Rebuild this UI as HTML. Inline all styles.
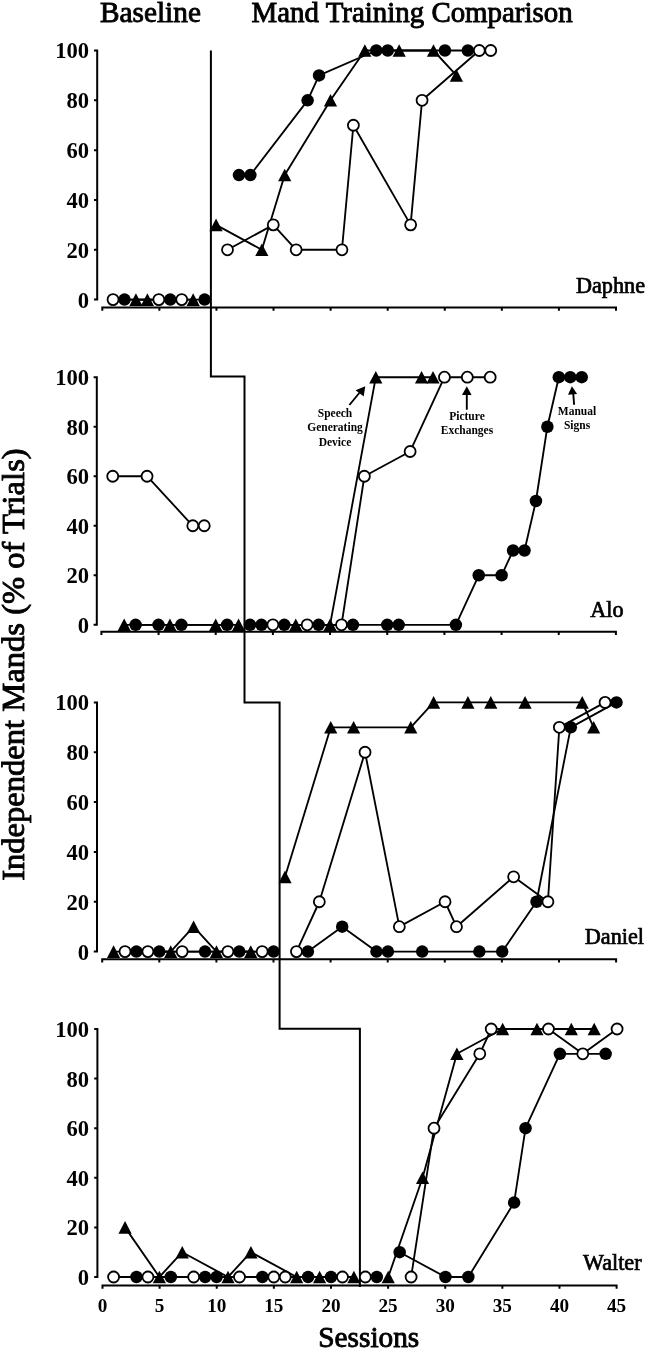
<!DOCTYPE html>
<html><head><meta charset="utf-8"><style>
html,body{margin:0;padding:0;background:#fff;}
body{width:645px;height:1350px;overflow:hidden;position:relative;}
svg{position:absolute;left:0;top:0;will-change:transform;}
text{font-family:"Liberation Serif",serif;fill:#000;}
.yl{font-size:22.6px;font-weight:bold;text-anchor:end;}
.xl{font-size:19.2px;font-weight:bold;text-anchor:middle;}
.pn{font-size:22.2px;stroke:#000;stroke-width:0.7px;}
.ti{font-size:29.3px;stroke:#000;stroke-width:0.9px;}
.yt{font-size:32.6px;stroke:#000;stroke-width:0.9px;}
.an{font-size:11.5px;font-weight:bold;text-anchor:middle;}
.mo{fill:#fff;stroke:#000;stroke-width:1.8;}
</style></head><body>
<svg width="645" height="1350" viewBox="0 0 645 1350">
<g fill="none" stroke="#000" stroke-width="2">
<path d="M97.2 50.5 V299.6 M94 299.6 H98.2 M94 249.78 H98.2 M94 199.96 H98.2 M94 150.14 H98.2 M94 100.32 H98.2 M94 50.5 H98.2"/>
<path d="M101.3 307.6 H617 M102.3 306.6 V310.8 M159.38 306.6 V310.8 M216.46 306.6 V310.8 M273.53 306.6 V310.8 M330.61 306.6 V310.8 M387.69 306.6 V310.8 M444.77 306.6 V310.8 M501.84 306.6 V310.8 M558.92 306.6 V310.8 M616 306.6 V310.8"/>
<path d="M96.8 377.2 V624.8 M93.6 624.8 H97.8 M93.6 575.28 H97.8 M93.6 525.76 H97.8 M93.6 476.24 H97.8 M93.6 426.72 H97.8 M93.6 377.2 H97.8"/>
<path d="M100.4 631.8 H616.9 M101.4 630.8 V635 M158.57 630.8 V635 M215.73 630.8 V635 M272.9 630.8 V635 M330.07 630.8 V635 M387.23 630.8 V635 M444.4 630.8 V635 M501.57 630.8 V635 M558.73 630.8 V635 M615.9 630.8 V635"/>
<path d="M97 702.4 V951.6 M93.8 951.6 H98 M93.8 901.76 H98 M93.8 851.92 H98 M93.8 802.08 H98 M93.8 752.24 H98 M93.8 702.4 H98"/>
<path d="M101.2 959.2 H617.1 M102.2 958.2 V962.4 M159.3 958.2 V962.4 M216.4 958.2 V962.4 M273.5 958.2 V962.4 M330.6 958.2 V962.4 M387.7 958.2 V962.4 M444.8 958.2 V962.4 M501.9 958.2 V962.4 M559 958.2 V962.4 M616.1 958.2 V962.4"/>
<path d="M97.4 1029 V1277 M94.2 1277 H98.4 M94.2 1227.4 H98.4 M94.2 1177.8 H98.4 M94.2 1128.2 H98.4 M94.2 1078.6 H98.4 M94.2 1029 H98.4"/>
<path d="M101.5 1285.5 H617.6 M102.5 1284.5 V1288.7 M159.62 1284.5 V1288.7 M216.74 1284.5 V1288.7 M273.87 1284.5 V1288.7 M330.99 1284.5 V1288.7 M388.11 1284.5 V1288.7 M445.23 1284.5 V1288.7 M502.36 1284.5 V1288.7 M559.48 1284.5 V1288.7 M616.6 1284.5 V1288.7"/>
<path d="M210.9 50.5 V376.6 H244.5 V702.5 H279.6 V1028.8 H359.9 V1287" stroke-linejoin="miter"/>
</g>
<g fill="none" stroke="#000" stroke-width="1.85" stroke-linejoin="round">
<path d="M113.04 299.6 L158.82 299.6 L181.72 299.6"/>
<path d="M227.5 249.78 L273.27 224.87 L296.16 249.78 L341.94 249.78 L353.39 125.23 L410.62 224.87 L422.06 100.32 L479.28 50.5 L490.73 50.5"/>
<path d="M124.49 299.6 L170.27 299.6 L204.6 299.6"/>
<path d="M238.94 175.05 L250.38 175.05 L307.61 100.32 L319.06 75.41 L376.28 50.5 L387.73 50.5 L444.95 50.5 L467.84 50.5"/>
<path d="M135.94 299.6 L147.38 299.6 L193.16 299.6"/>
<path d="M216.05 224.87 L261.83 249.78 L284.72 175.05 L330.5 100.32 L364.84 50.5 L399.17 50.5 L433.5 50.5 L456.39 75.41"/>
<path d="M112.74 476.24 L147.05 476.24 L192.8 525.76 L204.24 525.76"/>
<path d="M272.87 624.8 L307.18 624.8 L341.5 624.8 L364.37 476.24 L410.13 451.48 L444.44 377.2 L467.32 377.2 L490.19 377.2"/>
<path d="M135.61 624.8 L158.49 624.8 L181.37 624.8 L227.12 624.8"/>
<path d="M249.99 624.8 L261.43 624.8 L284.31 624.8 L318.62 624.8 L352.94 624.8 L387.25 624.8 L398.69 624.8 L455.88 624.8 L478.75 575.28 L501.63 575.28 L513.07 550.52 L524.51 550.52 L535.94 501 L547.38 426.72 L558.82 377.2 L570.26 377.2 L581.7 377.2"/>
<path d="M124.18 624.8 L169.93 624.8 L215.68 624.8 L238.56 624.8"/>
<path d="M295.75 624.8 L330.06 624.8 L375.81 377.2 L421.56 377.2 L433 377.2"/>
<path d="M113.58 951.6 L170.73 951.6 L193.59 926.68 L216.45 951.6 L250.74 951.6"/>
<path d="M285.03 876.84 L330.75 727.32 L353.61 727.32 L410.76 727.32 L433.62 702.4 L467.91 702.4 L490.77 702.4 L525.06 702.4 L582.21 702.4 L593.64 727.32"/>
<path d="M125.01 951.6 L147.87 951.6 L182.16 951.6 L227.88 951.6 L262.17 951.6"/>
<path d="M296.46 951.6 L319.32 901.76 L365.04 752.24 L399.33 926.68 L445.05 901.76 L456.48 926.68 L513.63 876.84 L547.92 901.76 L559.35 727.32 L605.07 702.4"/>
<path d="M136.44 951.6 L159.3 951.6 L205.02 951.6 L239.31 951.6 L273.6 951.6"/>
<path d="M307.89 951.6 L342.18 926.68 L376.47 951.6 L387.9 951.6 L422.19 951.6 L479.34 951.6 L502.2 951.6 L536.49 901.76 L570.78 727.32 L616.5 702.4"/>
<path d="M113.6 1277 L147.93 1277 L193.7 1277 L239.48 1277 L273.8 1277 L285.25 1277 L342.46 1277"/>
<path d="M411.12 1277 L434.01 1128.2 L479.78 1053.8 L491.22 1029 L548.44 1029 L582.77 1053.8 L617.09 1029"/>
<path d="M125.05 1227.4 L159.38 1277 L182.26 1252.2 L228.03 1277 L250.92 1252.2 L296.69 1277 L319.58 1277 L353.91 1277"/>
<path d="M388.24 1277 L422.56 1177.8 L456.89 1053.8 L502.66 1029 L536.99 1029 L571.32 1029 L594.21 1029"/>
<path d="M136.49 1277 L170.82 1277 L205.15 1277 L216.59 1277 L262.36 1277 L308.13 1277 L331.02 1277"/>
<path d="M399.68 1252.2 L445.45 1277 L468.34 1277 L514.11 1202.6 L525.55 1128.2 L559.88 1053.8 L605.65 1053.8"/>
</g>
<g fill="#000">
<circle class="mo" cx="113.04" cy="299.6" r="5.5"/>
<circle class="mo" cx="158.82" cy="299.6" r="5.5"/>
<circle class="mo" cx="181.72" cy="299.6" r="5.5"/>
<circle class="mo" cx="227.5" cy="249.78" r="5.5"/>
<circle class="mo" cx="273.27" cy="224.87" r="5.5"/>
<circle class="mo" cx="296.16" cy="249.78" r="5.5"/>
<circle class="mo" cx="341.94" cy="249.78" r="5.5"/>
<circle class="mo" cx="353.39" cy="125.23" r="5.5"/>
<circle class="mo" cx="410.62" cy="224.87" r="5.5"/>
<circle class="mo" cx="422.06" cy="100.32" r="5.5"/>
<circle class="mo" cx="479.28" cy="50.5" r="5.5"/>
<circle class="mo" cx="490.73" cy="50.5" r="5.5"/>
<circle cx="124.49" cy="299.6" r="6.25"/>
<circle cx="170.27" cy="299.6" r="6.25"/>
<circle cx="204.6" cy="299.6" r="6.25"/>
<circle cx="238.94" cy="175.05" r="6.25"/>
<circle cx="250.38" cy="175.05" r="6.25"/>
<circle cx="307.61" cy="100.32" r="6.25"/>
<circle cx="319.06" cy="75.41" r="6.25"/>
<circle cx="376.28" cy="50.5" r="6.25"/>
<circle cx="387.73" cy="50.5" r="6.25"/>
<circle cx="444.95" cy="50.5" r="6.25"/>
<circle cx="467.84" cy="50.5" r="6.25"/>
<path d="M135.94 293.3L142.53 305.9L129.34 305.9Z"/>
<path d="M147.38 293.3L153.98 305.9L140.78 305.9Z"/>
<path d="M193.16 293.3L199.76 305.9L186.56 305.9Z"/>
<path d="M216.05 218.57L222.65 231.17L209.45 231.17Z"/>
<path d="M261.83 243.48L268.43 256.08L255.23 256.08Z"/>
<path d="M284.72 168.75L291.32 181.35L278.12 181.35Z"/>
<path d="M330.5 94.02L337.1 106.62L323.9 106.62Z"/>
<path d="M364.84 44.2L371.44 56.8L358.24 56.8Z"/>
<path d="M399.17 44.2L405.77 56.8L392.57 56.8Z"/>
<path d="M433.5 44.2L440.11 56.8L426.9 56.8Z"/>
<path d="M456.39 69.11L463 81.71L449.79 81.71Z"/>
<circle class="mo" cx="112.74" cy="476.24" r="5.5"/>
<circle class="mo" cx="147.05" cy="476.24" r="5.5"/>
<circle class="mo" cx="192.8" cy="525.76" r="5.5"/>
<circle class="mo" cx="204.24" cy="525.76" r="5.5"/>
<circle class="mo" cx="272.87" cy="624.8" r="5.5"/>
<circle class="mo" cx="307.18" cy="624.8" r="5.5"/>
<circle class="mo" cx="341.5" cy="624.8" r="5.5"/>
<circle class="mo" cx="364.37" cy="476.24" r="5.5"/>
<circle class="mo" cx="410.13" cy="451.48" r="5.5"/>
<circle class="mo" cx="444.44" cy="377.2" r="5.5"/>
<circle class="mo" cx="467.32" cy="377.2" r="5.5"/>
<circle class="mo" cx="490.19" cy="377.2" r="5.5"/>
<circle cx="135.61" cy="624.8" r="6.25"/>
<circle cx="158.49" cy="624.8" r="6.25"/>
<circle cx="181.37" cy="624.8" r="6.25"/>
<circle cx="227.12" cy="624.8" r="6.25"/>
<circle cx="249.99" cy="624.8" r="6.25"/>
<circle cx="261.43" cy="624.8" r="6.25"/>
<circle cx="284.31" cy="624.8" r="6.25"/>
<circle cx="318.62" cy="624.8" r="6.25"/>
<circle cx="352.94" cy="624.8" r="6.25"/>
<circle cx="387.25" cy="624.8" r="6.25"/>
<circle cx="398.69" cy="624.8" r="6.25"/>
<circle cx="455.88" cy="624.8" r="6.25"/>
<circle cx="478.75" cy="575.28" r="6.25"/>
<circle cx="501.63" cy="575.28" r="6.25"/>
<circle cx="513.07" cy="550.52" r="6.25"/>
<circle cx="524.51" cy="550.52" r="6.25"/>
<circle cx="535.94" cy="501" r="6.25"/>
<circle cx="547.38" cy="426.72" r="6.25"/>
<circle cx="558.82" cy="377.2" r="6.25"/>
<circle cx="570.26" cy="377.2" r="6.25"/>
<circle cx="581.7" cy="377.2" r="6.25"/>
<path d="M124.18 618.5L130.78 631.1L117.58 631.1Z"/>
<path d="M169.93 618.5L176.53 631.1L163.33 631.1Z"/>
<path d="M215.68 618.5L222.28 631.1L209.08 631.1Z"/>
<path d="M238.56 618.5L245.16 631.1L231.96 631.1Z"/>
<path d="M295.75 618.5L302.35 631.1L289.15 631.1Z"/>
<path d="M330.06 618.5L336.66 631.1L323.46 631.1Z"/>
<path d="M375.81 370.9L382.41 383.5L369.21 383.5Z"/>
<path d="M421.56 370.9L428.16 383.5L414.96 383.5Z"/>
<path d="M433 370.9L439.6 383.5L426.4 383.5Z"/>
<path d="M113.58 945.3L120.18 957.9L106.98 957.9Z"/>
<path d="M170.73 945.3L177.33 957.9L164.13 957.9Z"/>
<path d="M193.59 920.38L200.19 932.98L186.99 932.98Z"/>
<path d="M216.45 945.3L223.05 957.9L209.85 957.9Z"/>
<path d="M250.74 945.3L257.34 957.9L244.14 957.9Z"/>
<path d="M285.03 870.54L291.63 883.14L278.43 883.14Z"/>
<path d="M330.75 721.02L337.35 733.62L324.15 733.62Z"/>
<path d="M353.61 721.02L360.21 733.62L347.01 733.62Z"/>
<path d="M410.76 721.02L417.36 733.62L404.16 733.62Z"/>
<path d="M433.62 696.1L440.22 708.7L427.02 708.7Z"/>
<path d="M467.91 696.1L474.51 708.7L461.31 708.7Z"/>
<path d="M490.77 696.1L497.37 708.7L484.17 708.7Z"/>
<path d="M525.06 696.1L531.66 708.7L518.46 708.7Z"/>
<path d="M582.21 696.1L588.81 708.7L575.61 708.7Z"/>
<path d="M593.64 721.02L600.24 733.62L587.04 733.62Z"/>
<circle class="mo" cx="125.01" cy="951.6" r="5.5"/>
<circle class="mo" cx="147.87" cy="951.6" r="5.5"/>
<circle class="mo" cx="182.16" cy="951.6" r="5.5"/>
<circle class="mo" cx="227.88" cy="951.6" r="5.5"/>
<circle class="mo" cx="262.17" cy="951.6" r="5.5"/>
<circle class="mo" cx="296.46" cy="951.6" r="5.5"/>
<circle class="mo" cx="319.32" cy="901.76" r="5.5"/>
<circle class="mo" cx="365.04" cy="752.24" r="5.5"/>
<circle class="mo" cx="399.33" cy="926.68" r="5.5"/>
<circle class="mo" cx="445.05" cy="901.76" r="5.5"/>
<circle class="mo" cx="456.48" cy="926.68" r="5.5"/>
<circle class="mo" cx="513.63" cy="876.84" r="5.5"/>
<circle class="mo" cx="547.92" cy="901.76" r="5.5"/>
<circle class="mo" cx="559.35" cy="727.32" r="5.5"/>
<circle class="mo" cx="605.07" cy="702.4" r="5.5"/>
<circle cx="136.44" cy="951.6" r="6.25"/>
<circle cx="159.3" cy="951.6" r="6.25"/>
<circle cx="205.02" cy="951.6" r="6.25"/>
<circle cx="239.31" cy="951.6" r="6.25"/>
<circle cx="273.6" cy="951.6" r="6.25"/>
<circle cx="307.89" cy="951.6" r="6.25"/>
<circle cx="342.18" cy="926.68" r="6.25"/>
<circle cx="376.47" cy="951.6" r="6.25"/>
<circle cx="387.9" cy="951.6" r="6.25"/>
<circle cx="422.19" cy="951.6" r="6.25"/>
<circle cx="479.34" cy="951.6" r="6.25"/>
<circle cx="502.2" cy="951.6" r="6.25"/>
<circle cx="536.49" cy="901.76" r="6.25"/>
<circle cx="570.78" cy="727.32" r="6.25"/>
<circle cx="616.5" cy="702.4" r="6.25"/>
<circle class="mo" cx="113.6" cy="1277" r="5.5"/>
<circle class="mo" cx="147.93" cy="1277" r="5.5"/>
<circle class="mo" cx="193.7" cy="1277" r="5.5"/>
<circle class="mo" cx="239.48" cy="1277" r="5.5"/>
<circle class="mo" cx="273.8" cy="1277" r="5.5"/>
<circle class="mo" cx="285.25" cy="1277" r="5.5"/>
<circle class="mo" cx="342.46" cy="1277" r="5.5"/>
<circle class="mo" cx="365.35" cy="1277" r="5.5"/>
<circle class="mo" cx="411.12" cy="1277" r="5.5"/>
<circle class="mo" cx="434.01" cy="1128.2" r="5.5"/>
<circle class="mo" cx="479.78" cy="1053.8" r="5.5"/>
<circle class="mo" cx="491.22" cy="1029" r="5.5"/>
<circle class="mo" cx="548.44" cy="1029" r="5.5"/>
<circle class="mo" cx="582.77" cy="1053.8" r="5.5"/>
<circle class="mo" cx="617.09" cy="1029" r="5.5"/>
<path d="M125.05 1221.1L131.65 1233.7L118.45 1233.7Z"/>
<path d="M159.38 1270.7L165.97 1283.3L152.78 1283.3Z"/>
<path d="M182.26 1245.9L188.86 1258.5L175.66 1258.5Z"/>
<path d="M228.03 1270.7L234.63 1283.3L221.43 1283.3Z"/>
<path d="M250.92 1245.9L257.52 1258.5L244.32 1258.5Z"/>
<path d="M296.69 1270.7L303.29 1283.3L290.09 1283.3Z"/>
<path d="M319.58 1270.7L326.18 1283.3L312.98 1283.3Z"/>
<path d="M353.91 1270.7L360.51 1283.3L347.31 1283.3Z"/>
<path d="M388.24 1270.7L394.84 1283.3L381.63 1283.3Z"/>
<path d="M422.56 1171.5L429.16 1184.1L415.96 1184.1Z"/>
<path d="M456.89 1047.5L463.49 1060.1L450.29 1060.1Z"/>
<path d="M502.66 1022.7L509.26 1035.3L496.06 1035.3Z"/>
<path d="M536.99 1022.7L543.59 1035.3L530.39 1035.3Z"/>
<path d="M571.32 1022.7L577.92 1035.3L564.72 1035.3Z"/>
<path d="M594.21 1022.7L600.81 1035.3L587.61 1035.3Z"/>
<circle cx="136.49" cy="1277" r="6.25"/>
<circle cx="170.82" cy="1277" r="6.25"/>
<circle cx="205.15" cy="1277" r="6.25"/>
<circle cx="216.59" cy="1277" r="6.25"/>
<circle cx="262.36" cy="1277" r="6.25"/>
<circle cx="308.13" cy="1277" r="6.25"/>
<circle cx="331.02" cy="1277" r="6.25"/>
<circle cx="376.79" cy="1277" r="6.25"/>
<circle cx="399.68" cy="1252.2" r="6.25"/>
<circle cx="445.45" cy="1277" r="6.25"/>
<circle cx="468.34" cy="1277" r="6.25"/>
<circle cx="514.11" cy="1202.6" r="6.25"/>
<circle cx="525.55" cy="1128.2" r="6.25"/>
<circle cx="559.88" cy="1053.8" r="6.25"/>
<circle cx="605.65" cy="1053.8" r="6.25"/>
</g>
<g>
<text class="yl" transform="translate(89.1 299.6) scale(1 1.06)" y="7.5">0</text>
<text class="yl" transform="translate(89.1 249.78) scale(1 1.06)" y="7.5">20</text>
<text class="yl" transform="translate(89.1 199.96) scale(1 1.06)" y="7.5">40</text>
<text class="yl" transform="translate(89.1 150.14) scale(1 1.06)" y="7.5">60</text>
<text class="yl" transform="translate(89.1 100.32) scale(1 1.06)" y="7.5">80</text>
<text class="yl" transform="translate(89.1 50.5) scale(1 1.06)" y="7.5">100</text>
<text class="pn" x="576" y="292.8">Daphne</text>
<text class="yl" transform="translate(89.1 624.8) scale(1 1.06)" y="7.5">0</text>
<text class="yl" transform="translate(89.1 575.28) scale(1 1.06)" y="7.5">20</text>
<text class="yl" transform="translate(89.1 525.76) scale(1 1.06)" y="7.5">40</text>
<text class="yl" transform="translate(89.1 476.24) scale(1 1.06)" y="7.5">60</text>
<text class="yl" transform="translate(89.1 426.72) scale(1 1.06)" y="7.5">80</text>
<text class="yl" transform="translate(89.1 377.2) scale(1 1.06)" y="7.5">100</text>
<text class="pn" x="590.3" y="616.6">Alo</text>
<text class="yl" transform="translate(89.1 951.6) scale(1 1.06)" y="7.5">0</text>
<text class="yl" transform="translate(89.1 901.76) scale(1 1.06)" y="7.5">20</text>
<text class="yl" transform="translate(89.1 851.92) scale(1 1.06)" y="7.5">40</text>
<text class="yl" transform="translate(89.1 802.08) scale(1 1.06)" y="7.5">60</text>
<text class="yl" transform="translate(89.1 752.24) scale(1 1.06)" y="7.5">80</text>
<text class="yl" transform="translate(89.1 702.4) scale(1 1.06)" y="7.5">100</text>
<text class="pn" x="584.8" y="943.6">Daniel</text>
<text class="yl" transform="translate(89.1 1277) scale(1 1.06)" y="7.5">0</text>
<text class="yl" transform="translate(89.1 1227.4) scale(1 1.06)" y="7.5">20</text>
<text class="yl" transform="translate(89.1 1177.8) scale(1 1.06)" y="7.5">40</text>
<text class="yl" transform="translate(89.1 1128.2) scale(1 1.06)" y="7.5">60</text>
<text class="yl" transform="translate(89.1 1078.6) scale(1 1.06)" y="7.5">80</text>
<text class="yl" transform="translate(89.1 1029) scale(1 1.06)" y="7.5">100</text>
<text class="pn" x="583" y="1270">Walter</text>
<text class="xl" x="102.5" y="1311.5">0</text>
<text class="xl" x="159.62" y="1311.5">5</text>
<text class="xl" x="216.74" y="1311.5">10</text>
<text class="xl" x="273.87" y="1311.5">15</text>
<text class="xl" x="330.99" y="1311.5">20</text>
<text class="xl" x="388.11" y="1311.5">25</text>
<text class="xl" x="445.23" y="1311.5">30</text>
<text class="xl" x="502.36" y="1311.5">35</text>
<text class="xl" x="559.48" y="1311.5">40</text>
<text class="xl" x="616.6" y="1311.5">45</text>
<text class="ti" x="100" y="22">Baseline</text>
<text class="ti" x="251.6" y="22" style="font-size:28.9px">Mand Training Comparison</text>
<text class="ti" x="318.3" y="1347">Sessions</text>
<text class="yt" transform="translate(23.7 664.6) rotate(-90)" text-anchor="middle">Independent Mands (% of Trials)</text>
<text class="an" x="335" y="416.6">Speech</text>
<text class="an" x="335" y="431">Generating</text>
<text class="an" x="335" y="445.5">Device</text>
<text class="an" x="467" y="419.6">Picture</text>
<text class="an" x="467" y="434.3">Exchanges</text>
<text class="an" x="577" y="414.6">Manual</text>
<text class="an" x="577" y="429">Signs</text>
</g>
<g stroke="#000" stroke-width="1.9" fill="none">
<path d="M349.4 405 L360.5 391.5"/>
<path d="M466.8 409.7 V394"/>
<path d="M574.1 404.8 L573.3 394"/>
</g>
<g fill="#000">
<path d="M365.3 386.3 L363.7 396.6 L355.6 390.3 Z"/>
<path d="M466.8 386.2 L471.6 395.1 L462 395.1 Z"/>
<path d="M571.9 386.3 L577.1 393.9 L568 394.7 Z"/>
</g>
</svg>
</body></html>
